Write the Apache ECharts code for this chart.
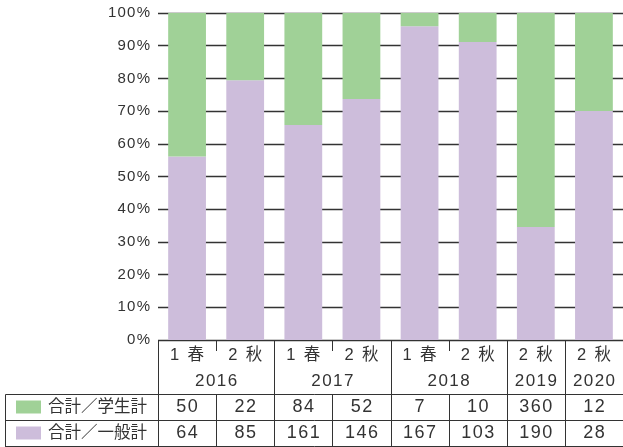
<!DOCTYPE html>
<html>
<head>
<meta charset="utf-8">
<script src="https://cdn.jsdelivr.net/npm/echarts@6/dist/echarts.min.js"></script>
<style>
  html, body { margin: 0; padding: 0; background: #fff; }
  #chart { width: 623px; height: 447px; }
</style>
</head>
<body>
<div id="chart"></div>
<script>
// Semester labels, year groups and the two counts per column
const semesters = ['1 春', '2 秋', '1 春', '2 秋', '1 春', '2 秋', '2 秋', '2 秋'];
const years = ['2016', '2016', '2017', '2017', '2018', '2018', '2019', '2020'];
const studentTotals = [50, 22, 84, 52, 7, 10, 360, 12];
const generalTotals = [64, 85, 161, 146, 167, 103, 190, 28];
const seriesNames = ['合計／学生計', '合計／一般計'];
const seriesColors = ['#a0d197', '#cdbddb'];

const FONT = "'Liberation Sans', 'Noto Sans CJK JP', sans-serif";
const TEXT = '#333333';
const LINE = '#333333';

// loosely tracked digits: hair spaces between characters
const track = s => String(s).split('').join('\u200A');

// share of each column, in percent
const totals = studentTotals.map((v, i) => v + generalTotals[i]);
const generalPct = generalTotals.map((v, i) => v / totals[i] * 100);
const studentPct = studentTotals.map((v, i) => v / totals[i] * 100);

const chart = echarts.init(document.getElementById('chart'), null, { renderer: 'canvas' });

const GRID = { left: 158, top: 13, width: 469, height: 327 };

chart.setOption({
  animation: false,
  backgroundColor: '#ffffff',
  grid: GRID,
  xAxis: {
    type: 'category',
    data: semesters,
    axisLine: { show: false },
    axisTick: { show: false },
    axisLabel: { show: false }
  },
  yAxis: {
    type: 'value',
    min: 0,
    max: 100,
    interval: 10,
    axisLine: { show: false },
    axisTick: { show: false },
    axisLabel: {
      formatter: v => track(v + '%'),
      color: TEXT,
      fontSize: 15,
      fontFamily: FONT,
      margin: 8
    },
    splitLine: { lineStyle: { color: LINE, width: 1.3 } }
  },
  series: [
    {
      name: seriesNames[1],
      type: 'bar',
      stack: 'share',
      barWidth: '65%',
      data: generalPct,
      itemStyle: { color: seriesColors[1] }
    },
    {
      name: seriesNames[0],
      type: 'bar',
      stack: 'share',
      barWidth: '65%',
      data: studentPct,
      itemStyle: { color: seriesColors[0] }
    }
  ]
});

// Data table under the plot, aligned to the category bands
function buildTable() {
  const centers = semesters.map((_, i) => chart.convertToPixel({ xAxisIndex: 0 }, i));
  const band = centers.length > 1 ? centers[1] - centers[0] : GRID.width;
  const edges = centers.map(c => c - band / 2);
  edges.push(centers[centers.length - 1] + band / 2);

  const top = chart.convertToPixel({ yAxisIndex: 0 }, 0);
  const headerBottom = top + 54;
  const row1Bottom = headerBottom + 26;
  const row2Bottom = row1Bottom + 26;
  const leftEdge = 5;
  const el = [];

  const line = (x1, y1, x2, y2) => el.push({
    type: 'line',
    shape: { x1, y1, x2, y2 },
    style: { stroke: LINE, lineWidth: 1 },
    z: 10
  });
  const text = (str, x, y, align, size) => el.push({
    type: 'text',
    x, y,
    style: {
      text: str, fill: TEXT, fontSize: size || 16, fontFamily: FONT,
      align: align || 'center', verticalAlign: 'middle'
    },
    z: 10
  });

  const px = v => Math.round(v) + 0.5;

  // horizontal rules
  line(px(edges[0]), px(top), edges[edges.length - 1], px(top));
  line(px(leftEdge), px(headerBottom), edges[edges.length - 1], px(headerBottom));
  line(px(leftEdge), px(row1Bottom), edges[edges.length - 1], px(row1Bottom));
  line(px(leftEdge), px(row2Bottom), edges[edges.length - 1], px(row2Bottom));
  line(px(leftEdge), px(headerBottom), px(leftEdge), row2Bottom + 2);

  // vertical rules: full between year groups, short notch inside a year
  for (let i = 0; i < edges.length; i++) {
    const x = px(edges[i]);
    const sameYear = i > 0 && i < years.length && years[i] === years[i - 1];
    if (sameYear) {
      line(x, top, x, top + 11);
      line(x, headerBottom, x, row2Bottom + 2);
    } else {
      line(x, top, x, row2Bottom + 2);
    }
  }

  // semester labels (wide gap between number and season) and year labels
  semesters.forEach((s, i) => text(s.replace(' ', '\u2002'), centers[i], top + 15, 'center', 16.5));
  let start = 0;
  for (let i = 1; i <= years.length; i++) {
    if (i === years.length || years[i] !== years[start]) {
      text(track(years[start]), (edges[start] + edges[i]) / 2, top + 41, 'center', 17);
      start = i;
    }
  }

  // legend cells and values
  const rows = [
    { name: seriesNames[0], color: seriesColors[0], values: studentTotals, y: (headerBottom + row1Bottom) / 2 },
    { name: seriesNames[1], color: seriesColors[1], values: generalTotals, y: (row1Bottom + row2Bottom) / 2 }
  ];
  rows.forEach(r => {
    el.push({
      type: 'rect',
      shape: { x: 16, y: r.y - 6.5, width: 25, height: 13 },
      style: { fill: r.color },
      z: 10
    });
    text(r.name, 48, r.y + 0.5, 'left', 16.5);
    r.values.forEach((v, i) => text(track(v), centers[i], r.y + 0.5, 'center', 18));
  });

  chart.setOption({ graphic: { elements: el } });
}

buildTable();
</script>
</body>
</html>
